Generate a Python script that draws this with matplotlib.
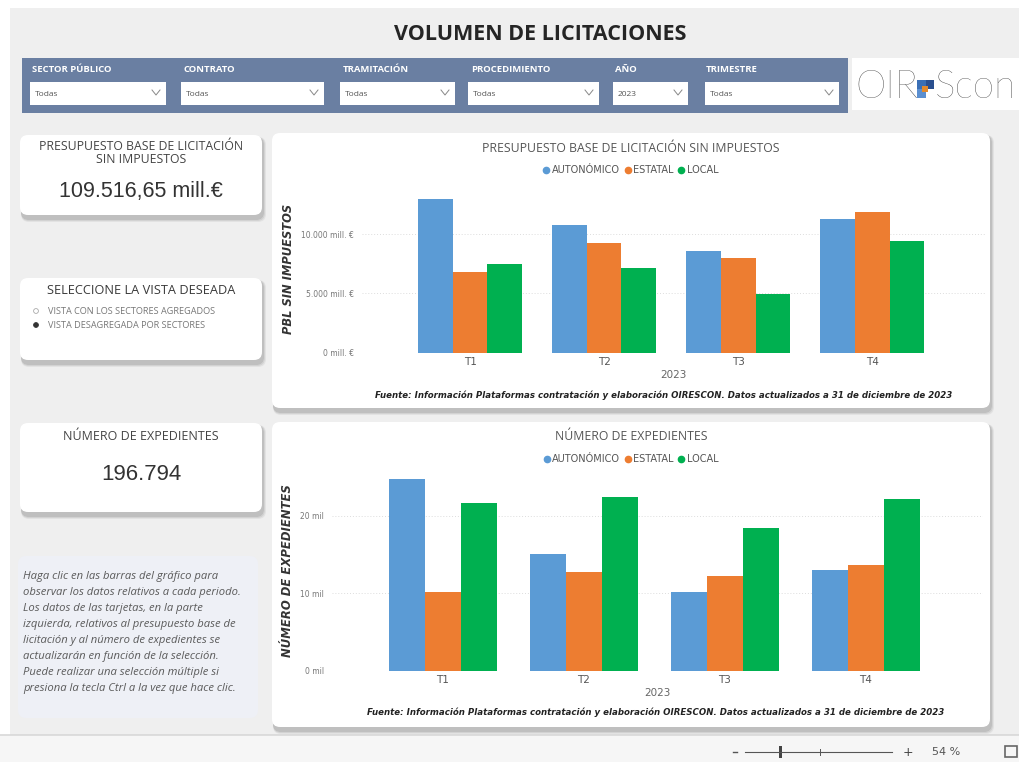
import matplotlib
matplotlib.use('Agg')
import matplotlib.pyplot as plt
from matplotlib.patches import FancyBboxPatch, Rectangle, Circle
from matplotlib.lines import Line2D
from matplotlib.ticker import FuncFormatter, FixedLocator
import numpy as np

# ---- data ----
quarters = ['T1', 'T2', 'T3', 'T4']
sectors = ['AUTONÓMICO', 'ESTATAL', 'LOCAL']
colors = ['#5b9bd5', '#ed7d31', '#00b050']

# presupuesto base de licitación sin impuestos (mill. €)
pbl_autonomico = [12980, 10790, 8620, 11290]
pbl_estatal = [6840, 9240, 7970, 11910]
pbl_local = [7520, 7130, 4930, 9460]

# número de expedientes (miles)
exp_autonomico = [24.7, 15.05, 10.1, 13.0]
exp_estatal = [10.2, 12.7, 12.2, 13.7]
exp_local = [21.6, 22.45, 18.4, 22.2]

total_pbl = '109.516,65 mill.€'
total_exp = '196.794'
year = '2023'

filters = ['SECTOR PÚBLICO', 'CONTRATO', 'TRAMITACIÓN', 'PROCEDIMIENTO', 'AÑO', 'TRIMESTRE']
filter_values = ['Todas', 'Todas', 'Todas', 'Todas', '2023', 'Todas']

help_lines = [
    'Haga clic en las barras del gráfico para',
    'observar los datos relativos a cada periodo.',
    'Los datos de las tarjetas, en la parte',
    'izquierda, relativos al presupuesto base de',
    'licitación y al número de expedientes se',
    'actualizarán en función de la selección.',
    'Puede realizar una selección múltiple si',
    'presiona la tecla Ctrl a la vez que hace clic.',
]
source = ('Fuente: Información Plataformas contratación y elaboración OIRESCON. '
          'Datos actualizados a 31 de diciembre de 2023')

W, H = 1020, 762
fig = plt.figure(figsize=(W / 100, H / 100), dpi=100)
fig.patch.set_facecolor('white')

# background axes in pixel coordinates
bg = fig.add_axes([0, 0, 1, 1], zorder=0)
bg.set_xlim(0, W)
bg.set_ylim(H, 0)
bg.axis('off')

SANS = ['Open Sans', 'DejaVu Sans']


def box(x0, y0, x1, y1, fc='white', r=8, shadow=True, ec='none'):
    if shadow:
        for i, a in enumerate([0.05, 0.07, 0.09]):
            d = 5 - i
            bg.add_patch(FancyBboxPatch((x0 + 1, y0 + 2), x1 - x0 + d - 2, y1 - y0 + d,
                                        boxstyle=f'round,pad=0,rounding_size={r}',
                                        fc='black', ec='none', alpha=a))
    bg.add_patch(FancyBboxPatch((x0, y0), x1 - x0, y1 - y0,
                                boxstyle=f'round,pad=0,rounding_size={r}',
                                fc=fc, ec=ec, lw=0.6))


# canvas
bg.add_patch(Rectangle((10, 8), W - 10, 727, fc='#efefef', ec='none'))
bg.add_patch(Rectangle((0, 735), W, 27, fc='#f6f6f6', ec='none'))
bg.plot([0, W], [735, 735], color='#d8d8d8', lw=1.2)

# title
bg.text(540, 34, 'VOLUMEN DE LICITACIONES', ha='center', va='center',
        fontsize=15.5, fontweight='bold', color='#252525', family=SANS)

# filter bar
bg.add_patch(Rectangle((22, 58), 826, 55, fc='#6a7fa2', ec='none'))
label_x = [32, 184, 343, 471, 615, 706]
boxes_x = [(30, 166), (181, 324), (340, 455), (468, 599), (613, 688), (705, 839)]
for lab, lx, (b0, b1), val in zip(filters, label_x, boxes_x, filter_values):
    bg.text(lx, 70, lab, ha='left', va='center', fontsize=6.8, fontweight='bold',
            color='white', family=SANS)
    bg.add_patch(Rectangle((b0, 82), b1 - b0, 23, fc='white', ec='none'))
    bg.text(b0 + 5, 95, val, ha='left', va='center', fontsize=6, color='#555555', family=SANS)
    bg.plot([b1 - 14, b1 - 10, b1 - 6], [90, 95, 90], color='#888888', lw=0.7)

# logo
bg.add_patch(Rectangle((852, 58), 168, 52, fc='white', ec='none'))
bg.text(855, 87, 'OIR', ha='left', va='center', fontsize=28, color='#3c3c3c',
        family=['Lato', 'DejaVu Sans'], fontweight='light')
bg.add_patch(Rectangle((917, 80), 9, 9, fc='#3a6fb5', ec='none'))
bg.add_patch(Rectangle((926, 80), 8, 9, fc='#2a4f8f', ec='none'))
bg.add_patch(Rectangle((917, 89), 9, 9, fc='#5b8fd0', ec='none'))
bg.add_patch(Rectangle((922, 86), 6, 6, fc='#e38a2c', ec='none'))
bg.text(935, 87, 'Scon', ha='left', va='center', fontsize=28, color='#3c3c3c',
        family=['Lato', 'DejaVu Sans'], fontweight='light', clip_on=True)

# cards
box(20, 135, 262, 215)
bg.text(141, 153, 'PRESUPUESTO BASE DE LICITACIÓN\nSIN IMPUESTOS', ha='center', va='center',
        fontsize=8.8, color='#444444', family=SANS, linespacing=0.95)
bg.text(141, 192, total_pbl, ha='center', va='center', fontsize=15.5,
        color='#333333', family=['Liberation Sans', 'DejaVu Sans'])

box(20, 278, 262, 360)
bg.text(141, 291, 'SELECCIONE LA VISTA DESEADA', ha='center', va='center',
        fontsize=9.2, color='#3a3a3a', family=SANS)
bg.add_patch(Circle((36, 311), 2.4, fc='white', ec='#aaaaaa', lw=0.6))
bg.add_patch(Circle((36, 325), 2.4, fc='#333333', ec='#333333', lw=0.6))
bg.text(48, 311, 'VISTA CON LOS SECTORES AGREGADOS', ha='left', va='center',
        fontsize=6.6, color='#777777', family=SANS)
bg.text(48, 325, 'VISTA DESAGREGADA POR SECTORES', ha='left', va='center',
        fontsize=6.6, color='#777777', family=SANS)

box(20, 423, 262, 512)
bg.text(141, 436, 'NÚMERO DE EXPEDIENTES', ha='center', va='center',
        fontsize=9, color='#444444', family=SANS)
bg.text(141, 475, total_exp, ha='center', va='center', fontsize=16,
        color='#333333', family=['Liberation Sans', 'DejaVu Sans'])

box(18, 556, 258, 718, fc='#eef0f6', shadow=False)
for i, line in enumerate(help_lines):
    bg.text(23, 576 + i * 16.1, line, ha='left', va='center', fontsize=8.1,
            style='italic', color='#5a5a5a', family=SANS)

# chart panels
box(272, 133, 990, 408)
box(272, 422, 990, 727)


def px_axes(x0, y0, x1, y1):
    return [x0 / W, 1 - y1 / H, (x1 - x0) / W, (y1 - y0) / H]


def bar_chart(rect, series, ylim, ticks, fmt, ylabel, title, title_y, legend_y,
              xlim, width, src_y, src_x, ylabel_x, ylabel_size):
    ax = fig.add_axes(px_axes(*rect), zorder=2)
    ax.patch.set_alpha(0)
    x = np.arange(len(quarters))
    for k, (vals, c) in enumerate(zip(series, colors)):
        ax.bar(x + (k - 1) * width, vals, width, color=c, zorder=3)
    ax.set_xlim(*xlim)
    ax.set_ylim(*ylim)
    ax.yaxis.set_major_locator(FixedLocator(ticks))
    ax.yaxis.set_major_formatter(FuncFormatter(fmt))
    ax.grid(axis='y', color='#dddddd', lw=0.7, ls=(0, (1, 2)), zorder=0)
    for s in ax.spines.values():
        s.set_visible(False)
    ax.tick_params(axis='y', length=0, labelsize=5.5, labelcolor='#777777', pad=6)
    ax.tick_params(axis='x', length=0, labelsize=7.5, labelcolor='#555555', pad=3)
    ax.set_xticks(x)
    ax.set_xticklabels(quarters)
    ax.set_xlabel(year, fontsize=7.5, color='#666666', labelpad=2)
    ax.set_ylabel(ylabel, fontsize=ylabel_size, style='italic', fontweight='bold',
                  color='#333333')
    ax.yaxis.set_label_coords(ylabel_x, 0.5)
    handles = [Line2D([], [], marker='o', ls='', color=c, markersize=4.5) for c in colors]
    ax.legend(handles, sectors, loc='center', bbox_to_anchor=legend_y, ncol=3,
              frameon=False, fontsize=7, handletextpad=0.05, columnspacing=0.3,
              handlelength=1.0, labelcolor='#555555')
    bg.text(631, title_y, title, ha='center', va='center', fontsize=8.8,
            color='#555555', family=SANS)
    bg.text(src_x, src_y, source, ha='center', va='center', fontsize=6.2,
            style='italic', fontweight='bold', color='#222222')
    return ax


bar_chart((362, 185, 985, 352.7), [pbl_autonomico, pbl_estatal, pbl_local],
          (0, 14160), [0, 5000, 10000],
          lambda v, p: f'{v:,.0f}'.replace(',', '.') + ' mill. €',
          'PBL SIN IMPUESTOS', 'PRESUPUESTO BASE DE LICITACIÓN SIN IMPUESTOS', 148,
          (0.43, 1.09), (-0.806, 3.84), 0.258, 395, 664, -0.108, 8.3)

bar_chart((332, 470, 983, 670.7), [exp_autonomico, exp_estatal, exp_local],
          (0, 25.9), [0, 10, 20],
          lambda v, p: f'{v:.0f} mil',
          'NÚMERO DE EXPEDIENTES', 'NÚMERO DE EXPEDIENTES', 437,
          (0.458, 1.055), (-0.787, 3.83), 0.255, 712, 656, -0.058, 8.4)

# zoom slider in status bar
bg.plot([733, 737], [752, 752], color='#555555', lw=1)
bg.plot([745, 892], [752, 752], color='#555555', lw=0.8)
bg.add_patch(Rectangle((779, 746), 3.5, 12, fc='#444444', ec='none'))
bg.plot([820, 820], [749, 755], color='#555555', lw=0.7)
bg.text(908, 752, '+', ha='center', va='center', fontsize=9, color='#444444')
bg.text(932, 752, '54 %', ha='left', va='center', fontsize=8, color='#555555')
bg.add_patch(Rectangle((1005, 746), 12, 11, fc='none', ec='#666666', lw=1.2))

fig.savefig('out.png', dpi=100)
